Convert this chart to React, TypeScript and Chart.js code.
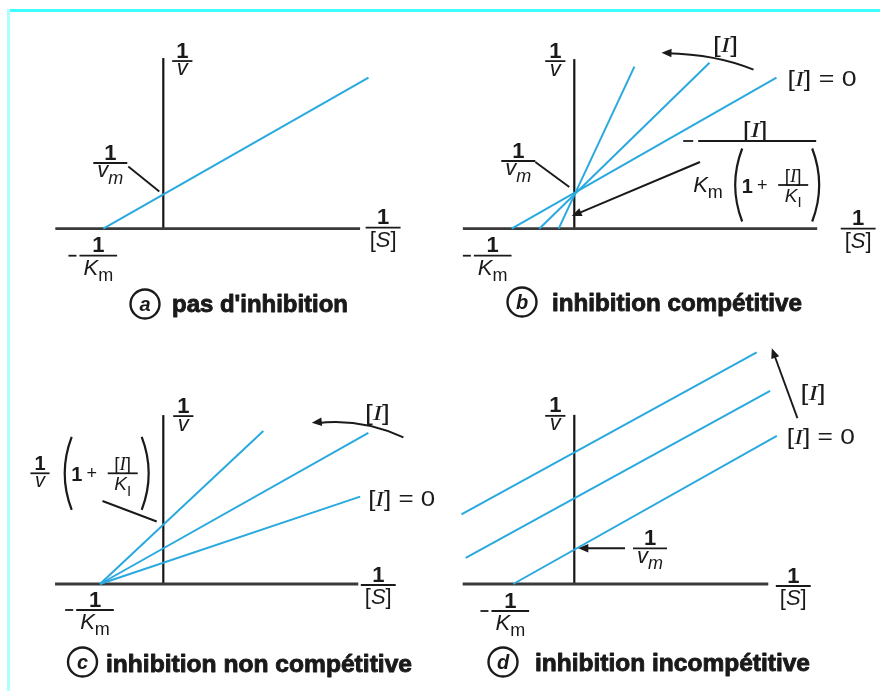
import { useEffect, useRef } from 'react';
import { Chart, registerables } from 'chart.js';

Chart.register(...registerables);

// ---------------- DATA ----------------
// Each panel uses its own units: the [I] = 0 line cuts the x axis at -1/Km = -1
// and (where it is marked) the y axis at 1/Vm = 1.
const captionLetters = ['a', 'b', 'c', 'd'];
const captionTexts = [
  "pas d'inhibition",
  'inhibition compétitive',
  'inhibition non compétitive',
  'inhibition incompétitive',
];

// (a) no inhibition
const aAxisX = [-1.8, 3.28];
const aAxisY = [0, 4.99];
const aLineX = [-1, 3.42];
const aLineY = [0, 4.42];
const aVmInv = 1;

// (b) competitive inhibition: lines meet on the y axis
const bAxisX = [-1.78, 3.88];
const bAxisY = [0, 4.75];
const bLine0X = [-1, 3.23];
const bLine0Y = [0, 4.23];
const bLine1X = [-0.56, 2.16];
const bLine1Y = [0, 4.65];
const bLine2X = [-0.25, 0.96];
const bLine2Y = [0, 4.54];
const bVmInv = 1;

// (c) non-competitive inhibition: lines meet on the x axis
const cAxisX = [-1.71, 3.08];
const cAxisY = [0, 7.93];
const cLine0X = [-1, 3.11];
const cLine0Y = [0, 4.1];
const cLine1X = [-1, 3.24];
const cLine1Y = [0, 7.1];
const cLine2X = [-1, 1.58];
const cLine2Y = [0, 7.18];

// (d) uncompetitive inhibition: parallel lines
const dAxisX = [-1.83, 3.18];
const dAxisY = [0, 4.66];
const dLine0X = [-1, 3.32];
const dLine0Y = [0, 4.08];
const dLine1X = [-1.78, 3.21];
const dLine1Y = [0.72, 5.32];
const dLine2X = [-1.85, 2.99];
const dLine2Y = [1.92, 6.38];
const dVmInv = 1;

// ---------------- STYLE / LAYOUT ----------------
const SANS = '"Liberation Sans", Arial, Helvetica, sans-serif';
const SERIF = '"Liberation Serif", "Times New Roman", serif';
const BLUE = '#2aa9df';
const INK = '#1a1a1a';
const AXIS = '#3a3a3a';
const LS = 22; // label font size

type Seg = { t: string; s: string };
const sg = (t: string, s = 'r'): Seg => ({ t, s });
const ONE = [sg('1', 'b')];
const V = [sg('v', 'i')];
const VM = [sg('v', 'i'), sg('m', 'subi')];
const KM = [sg('K', 'i'), sg('m', 'sub')];
const SB = [sg('['), sg('S', 'i'), sg(']')];
const IB = [sg('['), sg('I', 'I'), sg(']')];
const I0 = [sg('['), sg('I', 'I'), sg('] = 0')];
const KI = [sg('K', 'i'), sg('I', 'sub')];

function fontOf(s: string, S: number) {
  if (s === 'b') return `bold ${S}px ${SANS}`;
  if (s === 'i') return `italic ${S}px ${SANS}`;
  if (s === 'I') return `italic ${S}px ${SERIF}`;
  if (s === 'sub') return `${Math.round(S * 0.8)}px ${SANS}`;
  if (s === 'subi') return `italic ${Math.round(S * 0.8)}px ${SANS}`;
  return `${S}px ${SANS}`;
}
function richW(ctx: CanvasRenderingContext2D, segs: Seg[], S: number) {
  let w = 0;
  for (const g of segs) {
    ctx.font = fontOf(g.s, S);
    w += ctx.measureText(g.t).width;
  }
  return w;
}
function drawRich(ctx: CanvasRenderingContext2D, segs: Seg[], x: number, y: number, S: number, align = 'left', fitW?: number) {
  const nat = richW(ctx, segs, S);
  const k = fitW ? fitW / nat : 1;
  const w = nat * k;
  const x0 = align === 'center' ? x - w / 2 : x;
  ctx.save();
  ctx.translate(x0, y);
  ctx.scale(k, 1);
  ctx.textAlign = 'left';
  ctx.textBaseline = 'alphabetic';
  ctx.fillStyle = INK;
  let cx = 0;
  for (const g of segs) {
    ctx.font = fontOf(g.s, S);
    const dy = g.s.startsWith('sub') ? S * 0.28 : 0;
    ctx.fillText(g.t, cx, dy);
    cx += ctx.measureText(g.t).width;
  }
  ctx.restore();
}
function seg2(ctx: CanvasRenderingContext2D, x1: number, y1: number, x2: number, y2: number, lw = 1.7) {
  ctx.strokeStyle = INK;
  ctx.lineWidth = lw;
  ctx.beginPath();
  ctx.moveTo(x1, y1);
  ctx.lineTo(x2, y2);
  ctx.stroke();
}
function drawFrac(ctx: CanvasRenderingContext2D, cx: number, y: number, num: Seg[], den: Seg[], S: number, barW?: number, minus?: boolean) {
  const w = barW ?? Math.max(richW(ctx, num, S), richW(ctx, den, S)) + 8;
  seg2(ctx, cx - w / 2, y, cx + w / 2, y, 1.8);
  if (minus) seg2(ctx, cx - w / 2 - 11, y, cx - w / 2 - 3, y, 1.8);
  drawRich(ctx, num, cx, y - 3.5, S, 'center');
  const cap = /[A-Z\[]/.test(den[0].t);
  drawRich(ctx, den, cx, y + 3 + (cap ? 0.74 : 0.52) * S, S, 'center');
}
function head(ctx: CanvasRenderingContext2D, fx: number, fy: number, x: number, y: number) {
  const a = Math.atan2(y - fy, x - fx);
  const L = 10, W = 4.2;
  const c = Math.cos(a), s = Math.sin(a);
  ctx.fillStyle = INK;
  ctx.beginPath();
  ctx.moveTo(x, y);
  ctx.lineTo(x - L * c + W * s, y - L * s - W * c);
  ctx.lineTo(x - L * c - W * s, y - L * s + W * c);
  ctx.closePath();
  ctx.fill();
}
function paren(ctx: CanvasRenderingContext2D, x: number, mid: number, h: number, left: boolean) {
  ctx.strokeStyle = INK;
  ctx.lineWidth = 2.2;
  ctx.beginPath();
  if (left) {
    ctx.moveTo(x + 10, mid - h / 2);
    ctx.quadraticCurveTo(x - 4, mid, x + 10, mid + h / 2);
  } else {
    ctx.moveTo(x - 10, mid - h / 2);
    ctx.quadraticCurveTo(x + 4, mid, x - 10, mid + h / 2);
  }
  ctx.stroke();
}
// "(1 + [I]/K_I)" group, left = left edge of "("
function parenGroup(ctx: CanvasRenderingContext2D, left: number, mid: number) {
  const h = 73;
  paren(ctx, left, mid, h, true);
  drawRich(ctx, ONE, left + 15, mid + 7.5, 20, 'center');
  drawRich(ctx, [sg('+')], left + 30, mid + 6, 18, 'center');
  drawFrac(ctx, left + 61, mid, IB, KI, 19, 30);
  paren(ctx, left + 90, mid, h, false);
}

type Item = any;

function drawItems(chart: any, items: Item[]) {
  const ctx: CanvasRenderingContext2D = chart.ctx;
  const xs = chart.scales.x, ys = chart.scales.y;
  const P = (at: number[]) => [xs.getPixelForValue(at[0]), ys.getPixelForValue(at[1])];
  ctx.save();
  for (const it of items) {
    const [ax, ay] = P(it.at);
    if (it.k === 'frac') {
      drawFrac(ctx, ax + it.dx, ay + it.dy, it.num, it.den, it.S ?? LS, undefined, it.minus);
    } else if (it.k === 'rich') {
      drawRich(ctx, it.segs, ax + it.dx, ay + it.dy + 0.36 * LS, LS, it.align ?? 'left', it.w);
    } else if (it.k === 'line') {
      const x1 = ax + it.p1[0], y1 = ay + it.p1[1], x2 = ax + it.p2[0], y2 = ay + it.p2[1];
      if (it.head) {
        const a = Math.atan2(y2 - y1, x2 - x1);
        seg2(ctx, x1, y1, x2 - 7 * Math.cos(a), y2 - 7 * Math.sin(a), 1.9);
        head(ctx, x1, y1, x2, y2);
      } else seg2(ctx, x1, y1, x2, y2, 1.9);
    } else if (it.k === 'curve') {
      const x1 = ax + it.p1[0], y1 = ay + it.p1[1], cx = ax + it.c[0], cy = ay + it.c[1], x2 = ax + it.p2[0], y2 = ay + it.p2[1];
      ctx.strokeStyle = INK;
      ctx.lineWidth = 1.9;
      ctx.beginPath();
      ctx.moveTo(x1, y1);
      ctx.quadraticCurveTo(cx, cy, x2 + 5, y2 + 0.5);
      ctx.stroke();
      head(ctx, cx, cy, x2, y2);
    } else if (it.k === 'bigFrac') {
      const L = ax + it.dx, Y = ay + it.dy;
      seg2(ctx, L - 15, Y, L - 5, Y, 1.8);
      seg2(ctx, L, Y, L + it.w, Y, 1.8);
      drawRich(ctx, IB, L + 57, Y - 4, LS, 'center', 25);
      drawRich(ctx, KM, L - 5, Y + 51, LS, 'left');
      parenGroup(ctx, L + 34, Y + 44);
    } else if (it.k === 'group') {
      parenGroup(ctx, ax + it.dx, ay + it.dy);
    } else if (it.k === 'caption') {
      const cx = ax + it.cx, cy = ay + it.cy;
      ctx.strokeStyle = INK;
      ctx.lineWidth = 2.4;
      ctx.beginPath();
      ctx.arc(cx, cy, 14.5, 0, Math.PI * 2);
      ctx.stroke();
      ctx.fillStyle = INK;
      ctx.font = `italic bold 20px ${SANS}`;
      ctx.textAlign = 'center';
      ctx.textBaseline = 'middle';
      ctx.fillText(it.letter, cx, cy + 1);
      ctx.font = `bold 24px ${SANS}`;
      ctx.textAlign = 'left';
      ctx.textBaseline = 'alphabetic';
      const mw = ctx.measureText(it.text).width;
      ctx.save();
      ctx.translate(ax + it.tx, ay + it.ty);
      ctx.scale(it.w / mw, 1);
      ctx.fillText(it.text, 0, 0);
      ctx.lineWidth = 0.9;
      ctx.lineJoin = 'round';
      ctx.strokeText(it.text, 0, 0);
      ctx.restore();
    }
  }
  ctx.restore();
}

const pts = (xs: number[], ys: number[]) => xs.map((x, i) => ({ x, y: ys[i] }));
const base = { showLine: true, pointRadius: 0, pointHoverRadius: 0, fill: false, tension: 0, borderCapStyle: 'butt' };
const axisSets = (xr: number[], yr: number[]) => [
  { ...base, data: [{ x: xr[0], y: 0 }, { x: xr[1], y: 0 }], borderColor: AXIS, borderWidth: 2.8, order: 5 },
  { ...base, data: [{ x: 0, y: yr[0] }, { x: 0, y: yr[1] }], borderColor: '#151515', borderWidth: 2.2, order: 5 },
];
const blue = (xs: number[], ys: number[]) => ({ ...base, data: pts(xs, ys), borderColor: BLUE, borderWidth: 2, order: 1 });

const panels = [
  {
    box: { left: 10, top: 12, w: 430, h: 318, ox: 163.3, oy: 228.7, sx: 60, sy: 34.2 },
    sets: [...axisSets(aAxisX, aAxisY), blue(aLineX, aLineY)],
    items: [
      { k: 'frac', at: [0, aAxisY[1]], dx: 19, dy: 3, num: ONE, den: V },
      { k: 'frac', at: [aAxisX[1], 0], dx: 23, dy: -1, num: ONE, den: SB },
      { k: 'frac', at: [aLineX[0], 0], dx: -5, dy: 27, num: ONE, den: KM, minus: true },
      { k: 'line', at: [0, aVmInv], p1: [-35, -28], p2: [-4, -3] },
      { k: 'frac', at: [0, aVmInv], dx: -53, dy: -31.5, num: ONE, den: VM },
      { k: 'caption', at: [0, 0], cx: -18.3, cy: 75.3, tx: 8.7, ty: 83.3, w: 176, letter: captionLetters[0], text: captionTexts[0] },
    ],
  },
  {
    box: { left: 440, top: 12, w: 440, h: 318, ox: 574.3, oy: 228.7, sx: 62.6, sy: 35.7 },
    sets: [...axisSets(bAxisX, bAxisY), blue(bLine0X, bLine0Y), blue(bLine1X, bLine1Y), blue(bLine2X, bLine2Y)],
    items: [
      { k: 'frac', at: [0, bAxisY[1]], dx: -19, dy: 2, num: ONE, den: V },
      { k: 'frac', at: [bAxisX[1], 0], dx: 41, dy: 0, num: ONE, den: SB },
      { k: 'frac', at: [bLine0X[0], 0], dx: -19, dy: 27, num: ONE, den: KM, minus: true },
      { k: 'line', at: [0, bVmInv], p1: [-39, -31], p2: [-5, -6] },
      { k: 'frac', at: [0, bVmInv], dx: -56, dy: -32, num: ONE, den: VM },
      { k: 'rich', at: [bLine0X[1], bLine0Y[1]], dx: 11, dy: 0, segs: I0, w: 69 },
      { k: 'rich', at: [bLine1X[1], bLine1Y[1]], dx: 16, dy: -19, segs: IB, align: 'center', w: 25 },
      { k: 'curve', at: [bLine1X[1], bLine1Y[1]], p1: [44, 7], c: [7, -8.5], p2: [-48, -10] },
      { k: 'bigFrac', at: [bAxisX[1], 0], dx: -119, dy: -87.7, w: 118 },
      { k: 'line', at: [0, 0], p1: [125.7, -66.7], p2: [-2.6, -12.7], head: true },
      { k: 'caption', at: [0, 0], cx: -52.3, cy: 73.3, tx: -22.3, ty: 82.3, w: 250, letter: captionLetters[1], text: captionTexts[1] },
    ],
  },
  {
    box: { left: 10, top: 330, w: 430, h: 361, ox: 163.3, oy: 584, sx: 63.3, sy: 21.3 },
    sets: [...axisSets(cAxisX, cAxisY), blue(cLine0X, cLine0Y), blue(cLine1X, cLine1Y), blue(cLine2X, cLine2Y)],
    items: [
      { k: 'frac', at: [0, cAxisY[1]], dx: 20, dy: 1, num: ONE, den: V },
      { k: 'frac', at: [cAxisX[1], 0], dx: 20, dy: 1, num: ONE, den: SB },
      { k: 'frac', at: [cLine0X[0], 0], dx: -5, dy: 26, num: ONE, den: KM, minus: true },
      { k: 'rich', at: [cLine0X[1], cLine0Y[1]], dx: 8, dy: 1.5, segs: I0, w: 67 },
      { k: 'rich', at: [cLine1X[1], cLine1Y[1]], dx: 9, dy: -21, segs: IB, align: 'center', w: 25 },
      { k: 'curve', at: [cLine1X[1], cLine1Y[1]], p1: [35, 4.6], c: [-8, -15], p2: [-56.6, -10] },
      { k: 'line', at: [0, 0], p1: [-60.8, -83], p2: [-6.6, -62.5] },
      { k: 'frac', at: [0, 0], dx: -123.3, dy: -110.7, num: ONE, den: V, S: 20 },
      { k: 'group', at: [0, 0], dx: -101.6, dy: -110.7 },
      { k: 'caption', at: [0, 0], cx: -80.8, cy: 78, tx: -57.3, ty: 88, w: 306, letter: captionLetters[2], text: captionTexts[2] },
    ],
  },
  {
    box: { left: 440, top: 330, w: 440, h: 361, ox: 574.3, oy: 584, sx: 61, sy: 36.3 },
    sets: [...axisSets(dAxisX, dAxisY), blue(dLine0X, dLine0Y), blue(dLine1X, dLine1Y), blue(dLine2X, dLine2Y)],
    items: [
      { k: 'frac', at: [0, dAxisY[1]], dx: -19, dy: 1, num: ONE, den: V },
      { k: 'frac', at: [dAxisX[1], 0], dx: 25, dy: 2, num: ONE, den: SB },
      { k: 'frac', at: [dLine0X[0], 0], dx: -3, dy: 27, num: ONE, den: KM, minus: true },
      { k: 'rich', at: [dLine0X[1], dLine0Y[1]], dx: 10, dy: 0, segs: I0, w: 68 },
      { k: 'rich', at: [dLine1X[1], dLine1Y[1]], dx: 43, dy: 0.7, segs: IB, align: 'center', w: 25 },
      { k: 'line', at: [dLine1X[1], dLine1Y[1]], p1: [27.3, 27.3], p2: [1.7, -42.7], head: true },
      { k: 'line', at: [0, dVmInv], p1: [50.7, 0.6], p2: [4, 0.6], head: true },
      { k: 'frac', at: [0, dVmInv], dx: 75.7, dy: 0.6, num: ONE, den: VM },
      { k: 'caption', at: [0, 0], cx: -71.3, cy: 78, tx: -39.3, ty: 87, w: 275, letter: captionLetters[3], text: captionTexts[3] },
    ],
  },
];

export default function App() {
  const refs = [useRef<HTMLCanvasElement>(null), useRef<HTMLCanvasElement>(null), useRef<HTMLCanvasElement>(null), useRef<HTMLCanvasElement>(null)];

  useEffect(() => {
    const charts = panels.map((p, i) => {
      const b = p.box;
      const canvas = refs[i].current!;
      return new Chart(canvas, {
        type: 'scatter',
        data: { datasets: p.sets as any },
        options: {
          animation: false,
          responsive: false,
          events: [],
          layout: { padding: 0 },
          plugins: { legend: { display: false }, tooltip: { enabled: false } },
          scales: {
            x: { type: 'linear', display: false, min: (b.left - b.ox) / b.sx, max: (b.left + b.w - b.ox) / b.sx },
            y: { type: 'linear', display: false, min: (b.oy - b.top - b.h) / b.sy, max: (b.oy - b.top) / b.sy },
          },
        },
        plugins: [
          {
            id: 'labels' + i,
            afterDatasetsDraw(chart: any) {
              drawItems(chart, p.items);
            },
          },
        ],
      } as any);
    });
    return () => charts.forEach((c) => c.destroy());
  }, []);

  return (
    <div style={{ position: 'fixed', left: 0, top: 0, width: 880, height: 691, background: '#fff', overflow: 'hidden' }}>
      <div style={{ position: 'absolute', left: 7, top: 9, width: 873, height: 3, background: '#3ffcff' }} />
      <div style={{ position: 'absolute', left: 7, top: 9, width: 3, height: 682, background: '#aefeff' }} />
      {panels.map((p, i) => (
        <canvas
          key={i}
          ref={refs[i]}
          width={p.box.w}
          height={p.box.h}
          style={{ position: 'absolute', left: p.box.left, top: p.box.top, width: p.box.w, height: p.box.h }}
        />
      ))}
    </div>
  );
}
